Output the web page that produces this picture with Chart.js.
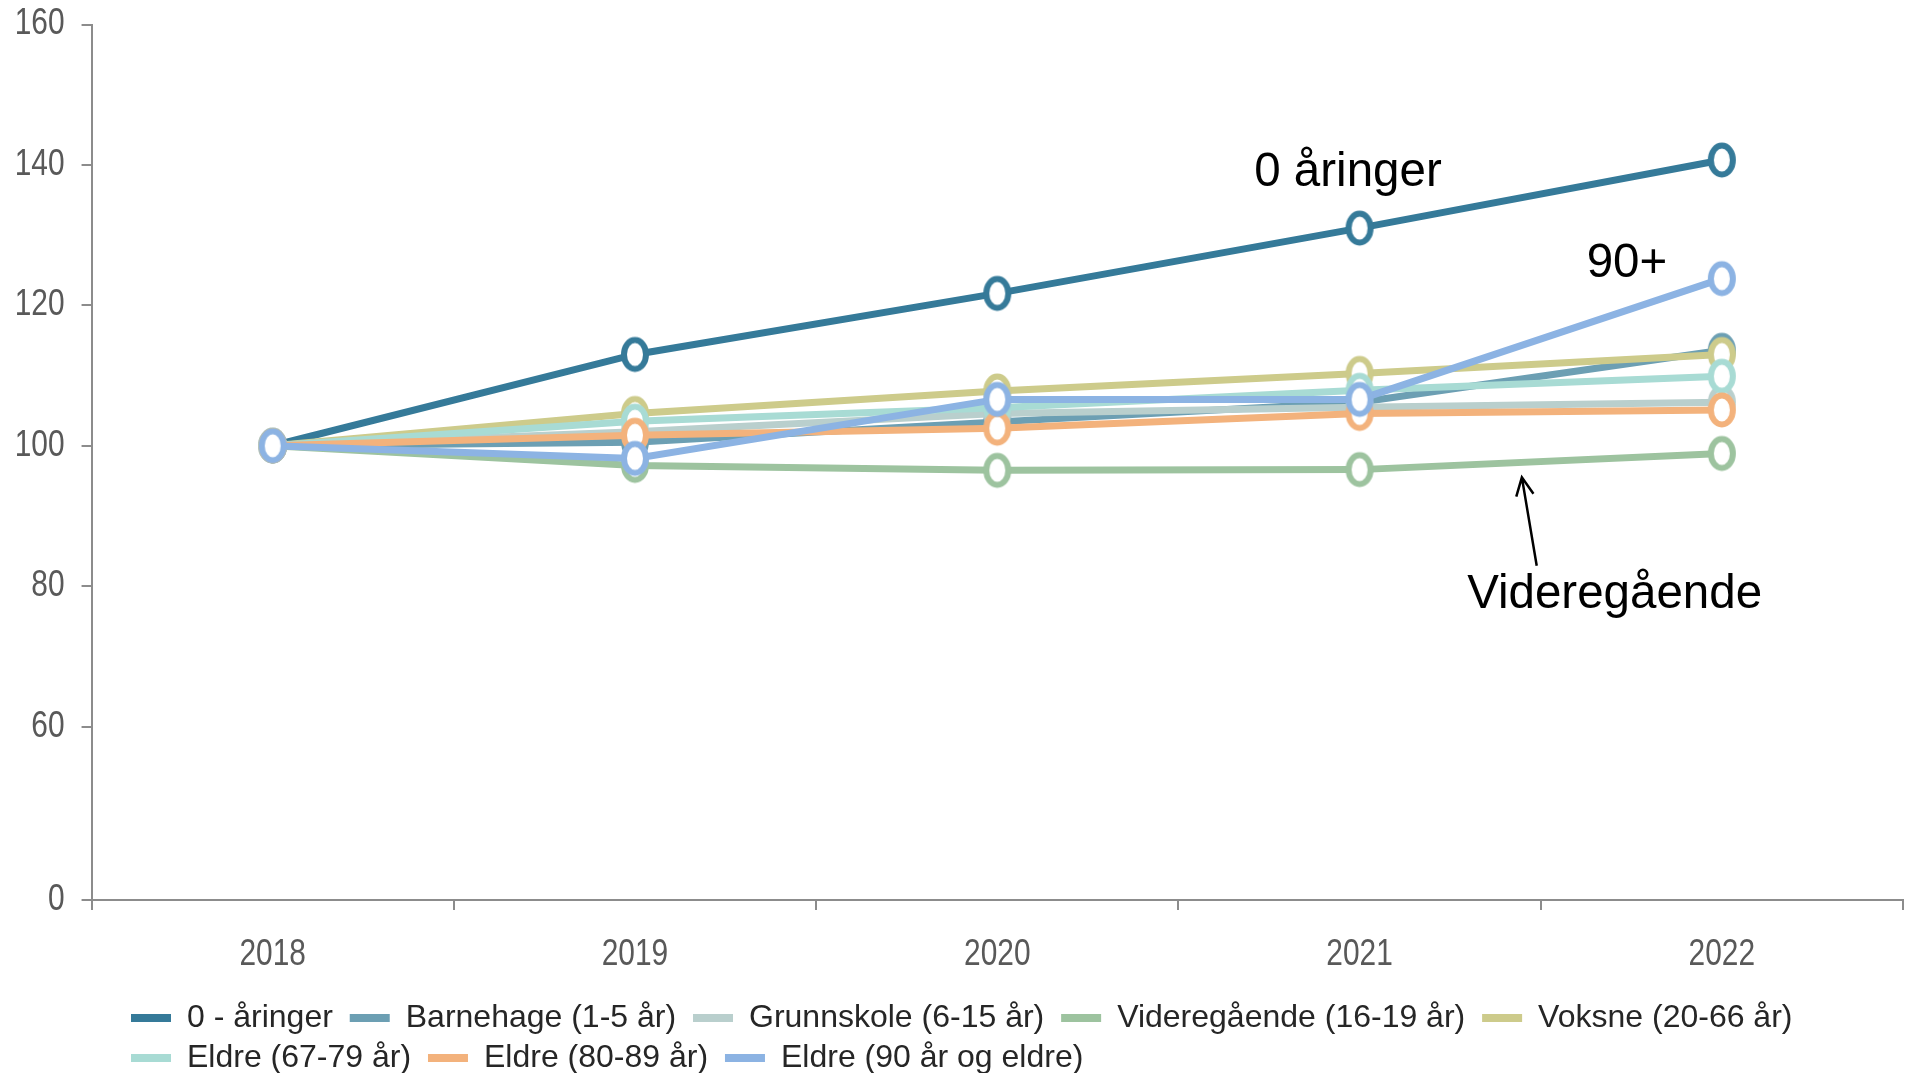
<!DOCTYPE html>
<html>
<head>
<meta charset="utf-8">
<title>Befolkningsutvikling 2018-2022</title>
<script src="https://cdn.jsdelivr.net/npm/chart.js@4.4.0/dist/chart.umd.min.js"></script>
<style>
  html, body { margin: 0; padding: 0; background: #fff; overflow: hidden; }
  #wrap { width: 1905px; height: 1073px; }
</style>
</head>
<body>
<div id="wrap"><canvas id="chart"></canvas></div>
<script>
// index, 2018 = 100
const years = ['2018', '2019', '2020', '2021', '2022'];

const nullAringer   = [100, 113.0, 121.7, 131.0, 140.7];
const barnehage     = [100, 100.5, 103.4, 106.2, 113.6];
const grunnskole    = [100, 102.0, 104.6, 105.5, 106.2];
const videregaende  = [100, 97.2, 96.5, 96.6, 98.9];
const voksne        = [100, 104.6, 107.8, 110.3, 113.0];
const eldre6779     = [100, 103.5, 105.4, 107.9, 109.9];
const eldre8089     = [100, 101.5, 102.5, 104.6, 105.1];
const eldre90       = [100, 98.2, 106.6, 106.6, 123.8];

const seriesNames = [
    '0 - åringer', 'Barnehage (1-5 år)', 'Grunnskole (6-15 år)', 'Videregående (16-19 år)',
    'Voksne (20-66 år)', 'Eldre (67-79 år)', 'Eldre (80-89 år)', 'Eldre (90 år og eldre)'
];
const seriesValues = [nullAringer, barnehage, grunnskole, videregaende, voksne, eldre6779, eldre8089, eldre90];
const seriesColors = ['#357a99', '#6c9fb3', '#b9cfcd', '#9dc39f', '#cdcb8b', '#a8dbd4', '#f3b27c', '#8cb3e3'];

// the y axis is broken: the bottom of the axis is labelled 0
const yBreak = 35.3;
const yTickValues = [yBreak, 60, 80, 100, 120, 140, 160];
const yTickLabels = ['0', '60', '80', '100', '120', '140', '160'];

// text notes in the plot (x = category index, y = value)
const notes = [
    { text: '0 åringer', x: 2.968, y: 137.0 },
    { text: '90+', x: 3.738, y: 124.0 },
    { text: 'Videregående', x: 3.704, y: 76.9 }
];
const arrowFrom = { x: 3.489, y: 82.9 };
const arrowTo = { x: 3.448, y: 95.5 };

const textFont = '"Liberation Sans", Arial, sans-serif';
const tickColor = '#595959';
// tick labels in the original are a tall narrow face; chart.js lays them out
// at 30px and we paint them squeezed at 36px
const tickFont = { family: textFont, size: 30 };
const tickPadX = 26, tickPadY = 17, tickLen = 10;

function ringMarker(color) {
    const c = document.createElement('canvas');
    c.width = 34;
    c.height = 42;
    const g = c.getContext('2d');
    g.beginPath();
    g.ellipse(17, 21, 11, 14.5, 0, 0, Math.PI * 2);
    g.fillStyle = '#ffffff';
    g.fill();
    g.lineWidth = 6;
    g.strokeStyle = color;
    g.stroke();
    return c;
}

const narrowTicks = {
    id: 'narrowTicks',
    afterDraw(chart) {
        const ctx = chart.ctx;
        const x = chart.scales.x;
        const y = chart.scales.y;
        ctx.save();
        ctx.fillStyle = tickColor;
        ctx.font = '36px ' + textFont;
        ctx.textBaseline = 'middle';
        const put = (label, px, py, align) => {
            ctx.save();
            ctx.translate(px, py);
            ctx.scale(0.83, 1);
            ctx.textAlign = align;
            ctx.fillText(label, 0, 0);
            ctx.restore();
        };
        x.ticks.forEach((t, i) => put(t.label, x.getPixelForTick(i), x.top + tickLen + tickPadX + 19.5, 'center'));
        y.ticks.forEach((t, i) => put(t.label, y.right - tickLen - tickPadY, y.getPixelForTick(i), 'right'));
        ctx.restore();
    }
};

const notesPlugin = {
    id: 'notes',
    afterDatasetsDraw(chart) {
        const ctx = chart.ctx;
        const x = chart.scales.x;
        const y = chart.scales.y;
        ctx.save();
        ctx.fillStyle = '#000';
        ctx.font = '47.5px ' + textFont;
        ctx.textAlign = 'center';
        ctx.textBaseline = 'alphabetic';
        notes.forEach(n => ctx.fillText(n.text, x.getPixelForValue(n.x), y.getPixelForValue(n.y)));

        // arrow pointing at Videregående line
        const x0 = x.getPixelForValue(arrowFrom.x), y0 = y.getPixelForValue(arrowFrom.y);
        const x1 = x.getPixelForValue(arrowTo.x), y1 = y.getPixelForValue(arrowTo.y);
        const ang = Math.atan2(y1 - y0, x1 - x0);
        ctx.strokeStyle = '#000';
        ctx.lineWidth = 2.5;
        ctx.beginPath();
        ctx.moveTo(x0, y0);
        ctx.lineTo(x1, y1);
        ctx.moveTo(x1 - 20 * Math.cos(ang - 0.45), y1 - 20 * Math.sin(ang - 0.45));
        ctx.lineTo(x1, y1);
        ctx.lineTo(x1 - 20 * Math.cos(ang + 0.45), y1 - 20 * Math.sin(ang + 0.45));
        ctx.stroke();
        ctx.restore();
    }
};

// legend rows start a bit in from the left edge
const legendIndent = 131;
const legendOffset = {
    id: 'legendOffset',
    beforeDraw(chart) {
        const lg = chart.legend;
        const dx = legendIndent - lg.options.labels.padding - lg.left;
        lg.left += dx;
        lg.right += dx;
    }
};

const datasets = seriesValues.map((vals, i) => ({
    label: seriesNames[i],
    data: vals,
    borderColor: seriesColors[i],
    backgroundColor: seriesColors[i],
    borderWidth: 7,
    pointStyle: ringMarker(seriesColors[i]),
    pointRadius: 1,
    pointBorderWidth: 0,
    pointHoverRadius: 1,
    tension: 0,
    order: seriesValues.length - i // later series on top
}));

new Chart(document.getElementById('chart'), {
    type: 'line',
    data: { labels: years, datasets: datasets },
    plugins: [notesPlugin, narrowTicks, legendOffset],
    options: {
        responsive: true,
        maintainAspectRatio: false,
        animation: false,
        layout: { padding: { left: 18.5, top: 0, right: 2, bottom: -11 } },
        scales: {
            x: {
                offset: true,
                afterFit: (scale) => { scale.height -= 4; },
                grid: { offset: true, drawOnChartArea: false, drawTicks: true, tickLength: tickLen, color: '#8c8c8c', lineWidth: 2 },
                border: { color: '#8c8c8c', width: 2 },
                ticks: { color: 'rgba(0,0,0,0)', font: tickFont, padding: tickPadX }
            },
            y: {
                min: yBreak,
                max: 160,
                afterBuildTicks: (scale) => { scale.ticks = yTickValues.map(v => ({ value: v })); },
                grid: { drawOnChartArea: false, drawTicks: true, tickLength: tickLen, color: '#8c8c8c', lineWidth: 2 },
                border: { color: '#8c8c8c', width: 2 },
                ticks: {
                    color: 'rgba(0,0,0,0)',
                    font: tickFont,
                    padding: 6.5, // layout only; labels are painted tickPadY from the ticks
                    callback: (v) => yTickLabels[yTickValues.indexOf(v)]
                }
            }
        },
        plugins: {
            tooltip: { enabled: false },
            legend: {
                position: 'bottom',
                align: 'start',
                labels: {
                    boxWidth: 40,
                    boxHeight: 8,
                    padding: 8,
                    color: '#262626',
                    font: { family: textFont, size: 32 },
                    sort: (a, b) => a.datasetIndex - b.datasetIndex,
                    // trailing space widens the gap between items without adding row height
                    generateLabels: (chart) => Chart.defaults.plugins.legend.labels.generateLabels(chart)
                        .map(item => Object.assign(item, { lineWidth: 0, text: item.text + ' ' }))
                }
            }
        }
    }
});
</script>
</body>
</html>
